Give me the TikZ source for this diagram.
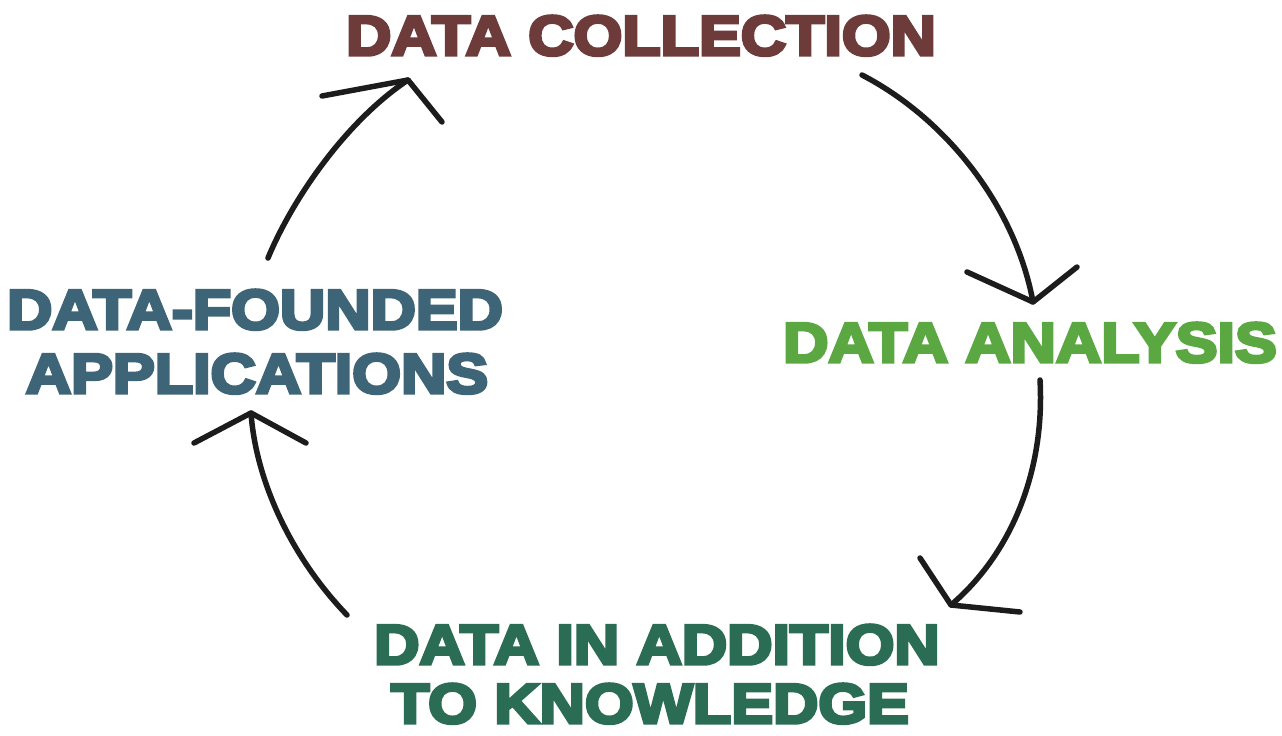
\documentclass[tikz,border=0pt]{standalone}
\usepackage{fontspec}
\newfontfamily\heavy{Liberation Sans}[UprightFont={* Bold},UprightFeatures={FakeBold=6},FakeStretch=1.12]
\definecolor{collectcol}{HTML}{6E3B3B}
\definecolor{analysiscol}{HTML}{5BA843}
\definecolor{appcol}{HTML}{3E6577}
\definecolor{knowcol}{HTML}{2B6C55}
\definecolor{inkcol}{HTML}{1C1C1C}
\tikzset{
  label/.style={anchor=base, inner sep=0pt, font=\heavy\fontsize{56}{60}\selectfont},
  stroke/.style={draw=inkcol, line width=5.5pt, line cap=round, line join=round},
}
\begin{document}
\begin{tikzpicture}[x=1pt,y=-1pt]
\useasboundingbox[fill=white] (0,0) rectangle (1282,736);

% stage labels
\node[label, text=collectcol] (collect) at (641,55) {DATA COLLECTION};
\node[label, text=analysiscol] (analysis) at (1030,362) {DATA ANALYSIS};
\node[label, text=appcol] (appA) at (255,329) {DATA-FOUNDED};
\node[label, text=appcol] (appB) at (257,393) {APPLICATIONS};
\node[label, text=knowcol] (knowA) at (657,664) {DATA IN ADDITION};
\node[label, text=knowcol] (knowB) at (650,723) {TO KNOWLEDGE};

% arrow end points
\coordinate (s1) at (268,258);  \coordinate (t1) at (408,80);
\coordinate (s2) at (862,75);   \coordinate (t2) at (1033,302);
\coordinate (s3) at (1040,380); \coordinate (t3) at (951,605);
\coordinate (s4) at (347,615);  \coordinate (t4) at (251,413);

% cycle arrows with open hand-drawn heads
\draw[stroke] (s1) .. controls (292,200) and (345,122) .. (t1);
\draw[stroke] (322,96) -- (t1) -- (442,122);

\draw[stroke] (s2) .. controls (945,118) and (1015,205) .. (t2);
\draw[stroke] (967,272) -- (t2) -- (1077,267);

\draw[stroke] (s3) .. controls (1045,470) and (1012,553) .. (t3);
\draw[stroke] (920,558) -- (t3) -- (1020,612);

\draw[stroke] (s4) .. controls (292,558) and (256,482) .. (t4);
\draw[stroke] (194,443) -- (t4) -- (306,443);
\end{tikzpicture}
\end{document}
